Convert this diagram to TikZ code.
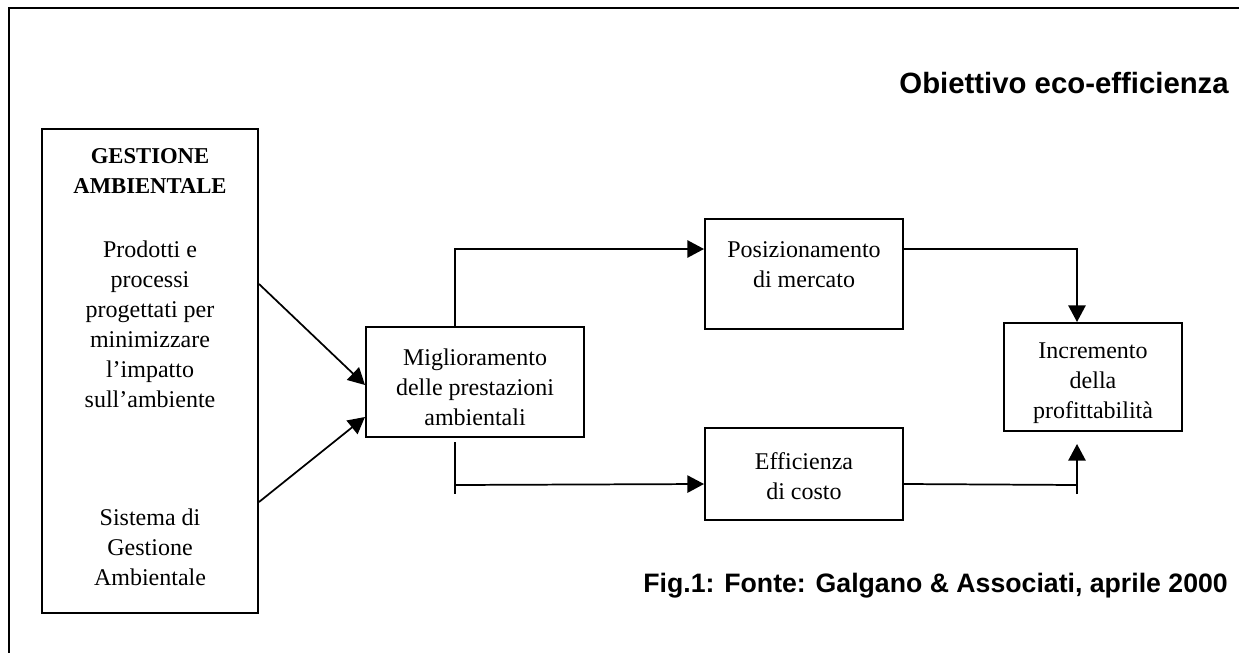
\documentclass[tikz,border=0pt]{standalone}
\usepackage{fontspec}
\setmainfont{Liberation Serif}
\newfontfamily\arialfont{Liberation Sans}
\usetikzlibrary{arrows.meta,calc}
\begin{document}
\begin{tikzpicture}[x=0.75pt,y=-0.75pt,
  box/.style={draw,line width=1.5pt,inner sep=0pt},
  txt/.style={align=center,inner sep=0pt,font=\fontsize{18}{22.5}\selectfont},
  conn/.style={line width=1.3pt},
  arr/.style={conn,-{Triangle[length=12.5pt,width=13pt]}},
  headtxt/.style={anchor=base east,inner sep=0pt}]
\useasboundingbox (0,0) rectangle (1239,653);
\clip (0,0) rectangle (1239,653);
\draw[line width=1.5pt] (9,8) rectangle (1300,700);

% left box
\node[box,minimum width=216*0.75pt,minimum height=484*0.75pt] (lb) at (150,371) {};
\node[txt,font=\fontsize{17}{22.5}\selectfont\bfseries] (lbt) at (150,171) {GESTIONE\\AMBIENTALE};
\node[txt] (lbp) at (150,324) {Prodotti e\\processi\\progettati per\\minimizzare\\l’impatto\\sull’ambiente};
\node[txt] (lbs) at (150,547) {Sistema di\\Gestione\\Ambientale};

% middle
\node[box,minimum width=218*0.75pt,minimum height=110*0.75pt] (mig) at (475,382) {};
\node[txt] (migt) at (475,387) {Miglioramento\\delle prestazioni\\ambientali};

\node[box,minimum width=198*0.75pt,minimum height=110*0.75pt] (pos) at (804,274) {};
\node[txt] (post) at (804,265) {Posizionamento\\di mercato};

\node[box,minimum width=198*0.75pt,minimum height=92*0.75pt] (eff) at (804,474) {};
\node[txt] (efft) at (804,476) {Efficienza\\di costo};

\node[box,minimum width=178*0.75pt,minimum height=108*0.75pt] (inc) at (1093,377) {};
\node[txt] (inct) at (1093,383) {Incremento\\della\\profittabilità};

% titles
\node[headtxt,font={\arialfont\bfseries\fontsize{22}{26}\selectfont}] (title) at (1229,93) {Obiettivo eco-efficienza};
\node[headtxt,font={\arialfont\bfseries\fontsize{20}{24}\selectfont}] (cap) at (1228,592) {Fig.1: Fonte: Galgano \& Associati, aprile 2000};

% connectors
\draw[arr] ($(lb.north east)+(0,156)$) -- ($(mig.west)+(0,3)$);
\draw[arr] ($(lb.north east)+(0,374)$) -- ($(mig.west)+(0,35)$);
\draw[arr] ($(mig.north west)+(90,0)$) |- ($(pos.west)+(0,-25)$);
\draw[conn] ($(mig.south west)+(90,4)$) -- ($(mig.south west)+(90,56)$);
\draw[arr] ($(mig.south west)+(90,47)$) -- ($(eff.west)+(0,10)$);
\draw[arr] ($(pos.east)+(0,-25)$) -| ($(inc.north)+(-16,0)$);
\draw[conn] ($(eff.east)+(0,10)$) -- ($(inc.south)+(-16,53)$);
\draw[arr] ($(inc.south)+(-16,62)$) -- ($(inc.south)+(-16,12)$);
\end{tikzpicture}
\end{document}
